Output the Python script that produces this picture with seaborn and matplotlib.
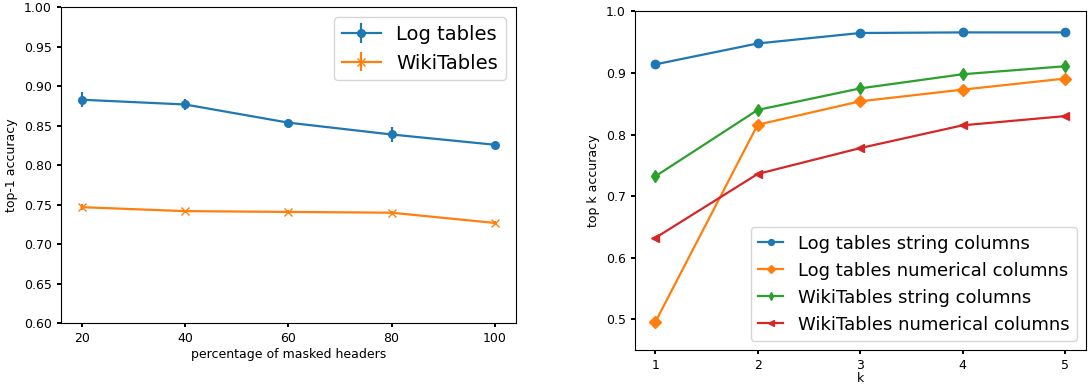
import numpy as np
import pandas as pd
import matplotlib
matplotlib.use("Agg")
import matplotlib.pyplot as plt
from matplotlib.ticker import FormatStrFormatter
import seaborn as sns

# ---- left panel: accuracy vs. share of masked headers ----
masked_pct = [20, 40, 60, 80, 100]
log_top1 = [0.883, 0.877, 0.854, 0.839, 0.826]
log_top1_err = [0.0097, 0.0068, 0.004, 0.0095, 0.003]
wiki_top1 = [0.747, 0.742, 0.741, 0.740, 0.727]
wiki_top1_err = [0.004, 0.002, 0.002, 0.002, 0.002]

# ---- right panel: top-k accuracy ----
k_values = [1, 2, 3, 4, 5]
log_string = [0.914, 0.948, 0.965, 0.966, 0.966]
log_numeric = [0.495, 0.816, 0.854, 0.873, 0.891]
wiki_string = [0.732, 0.840, 0.875, 0.898, 0.911]
wiki_numeric = [0.632, 0.736, 0.778, 0.815, 0.830]
series_names = [
    "Log tables string columns",
    "Log tables numerical columns",
    "WikiTables string columns",
    "WikiTables numerical columns",
]

palette = sns.color_palette("tab10")
plt.rcParams["font.family"] = ["DejaVu Sans"]

fig = plt.figure(figsize=(10.9, 3.86), dpi=100)
ax1 = fig.add_axes([0.056, 0.1624, 0.417, 0.8187])
ax2 = fig.add_axes([0.5823, 0.0933, 0.4136, 0.877])

tick_kw = dict(labelsize=9, length=3, width=1.4)

# left panel with error bars
ax1.errorbar(masked_pct, log_top1, yerr=log_top1_err, color=palette[0],
             marker="o", markersize=5.5, linewidth=1.6, label="Log tables")
ax1.errorbar(masked_pct, wiki_top1, yerr=wiki_top1_err, color=palette[1],
             marker="x", markersize=5.5, linewidth=1.6, label="WikiTables")
ax1.set_ylim(0.6, 1.0)
ax1.set_yticks(np.arange(0.60, 1.001, 0.05))
ax1.yaxis.set_major_formatter(FormatStrFormatter("%.2f"))
ax1.set_xticks(masked_pct)
ax1.set_xlabel("percentage of masked headers", fontsize=9, labelpad=2)
ax1.set_ylabel("top-1 accuracy", fontsize=9)
ax1.tick_params(**tick_kw)
ax1.legend(loc="upper right", fontsize=14)

# right panel
df = pd.DataFrame({
    "k": k_values * 4,
    "acc": log_string + log_numeric + wiki_string + wiki_numeric,
    "series": np.repeat(series_names, len(k_values)),
})
markers = ["o", "D", "d", "<"]
for i, name in enumerate(series_names):
    sub = df[df["series"] == name]
    sns.lineplot(data=sub, x="k", y="acc", ax=ax2, color=palette[i],
                 marker=markers[i], markersize=6, markeredgecolor=palette[i],
                 markeredgewidth=1, linewidth=1.6, label=name)
ax2.set_ylim(0.45, 1.0)
ax2.set_yticks(np.arange(0.5, 1.001, 0.1))
ax2.yaxis.set_major_formatter(FormatStrFormatter("%.1f"))
ax2.set_xticks(k_values)
ax2.set_xlabel("k", fontsize=9, labelpad=0)
ax2.set_ylabel("top k accuracy", fontsize=9)
ax2.tick_params(**tick_kw)
ax2.legend(loc="lower right", fontsize=13, markerscale=0.7, handlelength=1.4)

fig.savefig("out.png", dpi=100)
